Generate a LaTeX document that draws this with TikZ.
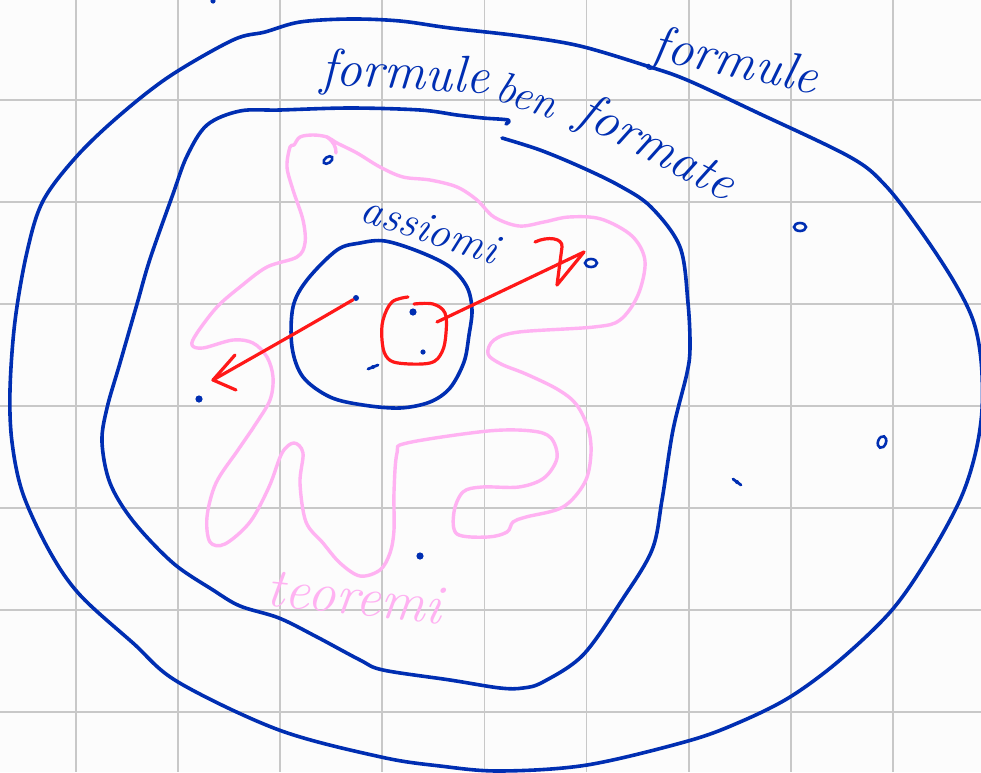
\documentclass[tikz,border=0pt]{standalone}
\usepackage{fontspec}
\usetikzlibrary{shapes.geometric}
\definecolor{inkblue}{RGB}{0,46,178}
\definecolor{inkred}{RGB}{255,24,24}
\definecolor{inkpink}{RGB}{255,178,242}
\definecolor{paper}{RGB}{252,252,252}
\definecolor{gridgray}{RGB}{200,200,200}
\tikzset{
  pen/.style={line cap=round,line join=round},
  bluepen/.style={pen,draw=inkblue,line width=1.8pt},
  pinkpen/.style={pen,draw=inkpink,line width=1.7pt},
  redpen/.style={pen,draw=inkred,line width=1.6pt},
  gridline/.style={draw=gridgray,line width=0.9pt},
  hand/.style={inner sep=0pt,text=inkblue,font=\itshape\fontsize{26}{30}\selectfont},
  ring/.style={ellipse,draw=inkblue,line width=1.3pt,inner sep=0pt,minimum width=6pt,minimum height=4pt},
  speck/.style={circle,fill=inkblue,inner sep=0pt,minimum size=3pt},
}
\begin{document}
\begin{tikzpicture}[x=0.5pt,y=-0.5pt]
% squared paper
\fill[paper] (0,0) rectangle (981,772);
\useasboundingbox (0,0) rectangle (981,772);
\foreach \i in {0,...,8} {\draw[gridline] ({76+102.1*\i},0) -- ({76+102.1*\i},772);}
\foreach \j in {1,...,7} {\draw[gridline] (0,{-2+102*\j}) -- (981,{-2+102*\j});}

% theorems: the pink blob
\draw[pinkpen] plot[smooth cycle,tension=0.55] coordinates {
 (294,145) (300,137) (313,135) (327,137) (337,143) (357,153) (380,167) (403,177)
 (430,180) (457,187) (477,200) (494,217) (519,226) (544,222) (569,217) (601,219)
 (632,236) (645,261) (638,295) (620,320) (594,327) (519,332) (494,340) (488,354)
 (501,364) (526,374) (557,389) (576,404) (588,428) (591,453) (585,482) (563,507)
 (526,517) (513,522) (507,532) (488,537) (457,534) (454,512) (463,492) (482,487)
 (519,487) (544,478) (557,458) (551,438) (532,431) (488,431) (407,443) (397,453)
 (394,492) (394,530) (390,553) (380,570) (360,576) (340,563) (323,543) (306,522)
 (300,483) (303,453) (294,443) (282,453) (269,487) (250,522) (225,544) (210,542)
 (207,517) (216,483) (238,450) (255,425) (270,400) (273,377) (267,357) (253,343)
 (233,340) (203,348) (192,345) (197,333) (217,307) (240,287) (267,267) (297,257)
 (305,243) (303,220) (293,190) (287,167) (290,147)};
\draw[pinkpen] (327,137) .. controls (334,142) and (336,147) .. (336,153);

% all formulas: outer loop
\draw[bluepen] plot[smooth cycle,tension=0.55] coordinates {
 (265,32) (300,22) (350,19) (400,21) (450,28) (520,36) (580,46) (647,66) (687,80)
 (756,112) (850,157) (885,185) (920,230) (953,280) (973,320) (981,360) (982,410)
 (975,455) (960,500) (930,555) (892,610) (840,660) (790,697) (740,722) (688,741)
 (587,765) (500,771) (440,766) (381,757) (279,730) (178,682) (133,643) (80,595)
 (50,552) (23,494) (12,442) (10,390) (15,321) (27,252) (43,201) (77,156) (120,115)
 (170,76) (233,40)};

% well-formed formulas: inner loop, open where the label sits
\draw[bluepen] plot[smooth,tension=0.55] coordinates {
 (502,138) (540,150) (581,167) (620,186) (651,207) (680,247) (688,303) (690,347)
 (687,373) (673,430) (662,500) (652,550) (622,600) (583,655) (543,682) (523,688)
 (500,688) (450,680) (383,670) (360,660) (317,637) (279,618) (240,606) (213,590)
 (173,563) (133,521) (110,483) (102,442) (107,408) (120,363) (137,304) (150,259)
 (173,194) (187,156) (207,125) (240,111) (280,110) (350,108) (420,110) (457,115)
 (483,118) (508,120) (506,124)};

% axioms: the small loop
\draw[bluepen] plot[smooth cycle,tension=0.55] coordinates {
 (337,250) (360,243) (385,241) (420,252) (450,267) (467,287) (472,310) (469,335)
 (464,362) (450,388) (430,402) (400,408) (363,405) (330,397) (303,377) (292,347)
 (293,307) (307,280)};

% red selection inside the axioms
\draw[redpen] plot[smooth,tension=0.6] coordinates {
 (408,297) (392,302) (383,320) (382,340) (386,356) (398,363) (430,363)
 (442,352) (446,333) (445,313) (433,304) (414,304)};

% formulas drawn as marks
\node[ring,rotate=35,minimum width=5pt,minimum height=3pt] (m1) at (328,160) {};
\node[speck] (pL) at (356,298) {};
\node[speck,minimum size=3.6pt] (m3) at (413,312) {};
\node[speck,minimum size=2.6pt] (m4) at (423,352) {};
\node[speck,minimum size=2pt] (m5) at (373,367) {};
\draw[bluepen,line width=1.4pt] (m5.center) ++(-5,2) -- ++(10,-4);
\node[speck,minimum size=3.6pt] (qL) at (199,399) {};
\node[ring] (qR) at (591,263) {};
\node[ring] (m8) at (800,227) {};
\node[ring,rotate=70] (m9) at (882,442) {};
\node[speck,minimum size=2pt] (m10) at (737,482) {};
\draw[bluepen,line width=1.4pt] (m10.center) ++(-4,-3) -- ++(8,6);
\node[speck,minimum size=3.6pt] (m11) at (420,556) {};
\node[speck,minimum size=2.6pt] (m12) at (213,1) {};

% derivation arrows
\coordinate (tipL) at (213,380);
\draw[redpen] (pL) .. controls (305,328) and (262,352) .. (tipL);
\draw[redpen] (tipL) ++(22,-25) -- (tipL) -- ++(23,10);
\coordinate (startR) at (437,322);
\coordinate (tipR) at (584,252);
\draw[redpen] (startR) -- (tipR);
\draw[redpen] (535,242) .. controls (548,236) and (563,238) .. (562,247) -- (557,285) -- (tipR);

% labels
\node[hand,rotate=-12] (lblAll) at (735,64) {formule};
\node[hand,rotate=-3] (lblWff) at (405,76) {formule};
\node[hand,rotate=-18,font=\itshape\fontsize{22}{26}\selectfont] (lblBen) at (527,95) {ben};
\node[hand,rotate=-28] (lblFormate) at (656,150) {formate};
\node[hand,rotate=-18,font=\itshape\fontsize{22}{26}\selectfont] (lblAx) at (430,229) {assiomi};
\node[hand,rotate=-6,text=inkpink,font=\itshape\fontsize{28}{32}\selectfont] (lblTh) at (355,597) {teoremi};
\end{tikzpicture}
\end{document}
